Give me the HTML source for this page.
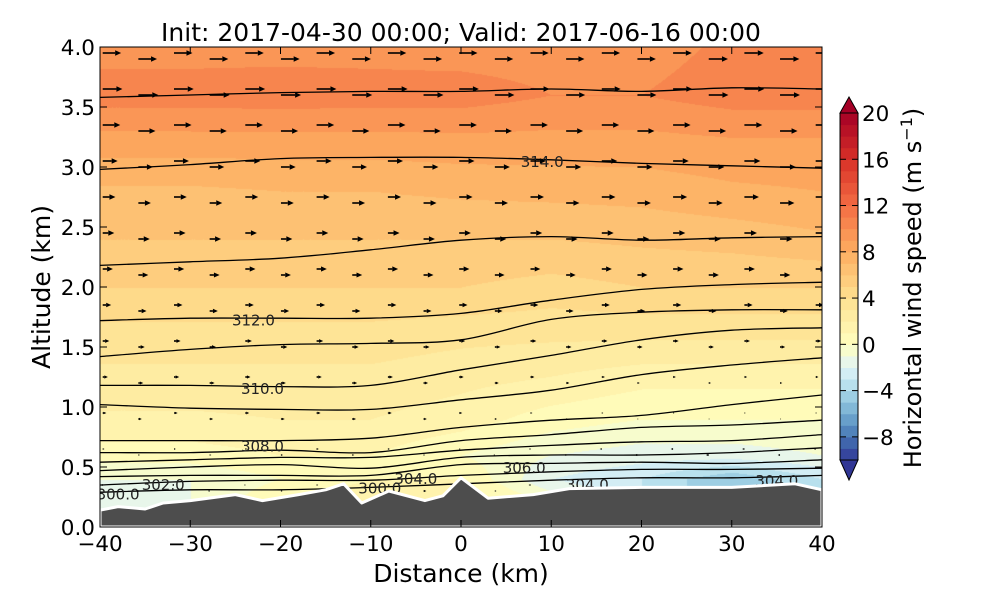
<!DOCTYPE html>
<html><head><meta charset="utf-8"><style>
html,body{margin:0;padding:0;background:#fff;}
#wrap{position:relative;width:1000px;height:600px;font-family:"DejaVu Sans","Liberation Sans",sans-serif;}
canvas{position:absolute;left:100px;top:47px;}
svg{position:absolute;left:0;top:0;}
</style></head><body>
<div id="wrap">
<canvas id="fill" width="722" height="480"></canvas>
<svg id="svg" width="1000" height="600"></svg>
</div>
<script>
// ---- data ----
const gridX = [-40,-30,-20,-10,0,10,20,30,40];
const gridZ = [0,0.2,0.4,0.6,0.9,1.2,1.6,2.0,2.4,2.8,3.2,3.6,4.0];
const speed00 = [-2,-1,1,2,2,0,-3,-5,-3];
const speed02 = [-2,-1,1,2,2,0,-3,-5,-3];
const speed04 = [-1,-1,0,1,1,-2,-3,-5,-3];
const speed06 = [0.5,0.5,1,1,0,-1,-1.5,-1.5,-1];
const speed09 = [1.8,1.8,2,2,1.5,0.5,0,0,0];
const speed12 = [2.6,2.6,2.6,2.6,2.2,1.8,1.2,1.2,1.2];
const speed16 = [3.6,3.6,3.6,3.6,3.3,3.2,3.2,3.2,3.2];
const speed20 = [5,5,5,5,5,4.6,5,5,5];
const speed24 = [6,6,6,6,6,6,6.2,6.4,6.8];
const speed28 = [6.8,6.8,7,7,7.2,7.3,7.4,7.8,8];
const speed32 = [8.5,8.5,8.5,8.5,8.6,8.6,8.6,8.8,8.8];
const speed36 = [10.5,10.5,10.6,10.5,10.5,10,10,10.5,10.5];
const speed40 = [9.6,9.6,9.6,9.6,9.5,9.5,9.6,10.2,10];
const speedRows = [speed00,speed02,speed04,speed06,speed09,speed12,speed16,speed20,speed24,speed28,speed32,speed36,speed40];
const terrainX = [-40,-38,-35,-33,-30,-25,-22,-18,-15,-13,-11,-8,-4,-2,0,3,8,12,20,30,37,40];
const terrainZ = [0.14,0.17,0.15,0.2,0.22,0.27,0.22,0.27,0.31,0.36,0.2,0.3,0.22,0.26,0.41,0.24,0.27,0.32,0.33,0.33,0.36,0.31];
const contourX = [-40,-30,-20,-10,0,10,20,30,40];
const theta1 = [3.58,3.6,3.62,3.63,3.63,3.65,3.63,3.66,3.65];
const theta2 = [2.98,3.02,3.07,3.08,3.08,3.06,3.03,3.01,2.99];
const theta3 = [2.18,2.21,2.24,2.31,2.39,2.42,2.39,2.41,2.42];
const theta4 = [1.72,1.74,1.74,1.74,1.78,1.89,1.98,2.02,2.04];
const theta5 = [1.42,1.48,1.52,1.53,1.56,1.73,1.79,1.81,1.81];
const theta6 = [1.18,1.18,1.17,1.18,1.31,1.43,1.56,1.64,1.66];
const theta7 = [1.02,0.99,0.98,0.98,1.06,1.14,1.27,1.35,1.41];
const theta8 = [0.72,0.72,0.72,0.74,0.83,0.89,0.93,1.02,1.1];
const theta9 = [0.62,0.62,0.64,0.62,0.72,0.77,0.83,0.85,0.89];
const theta10 = [0.54,0.56,0.58,0.58,0.64,0.68,0.71,0.72,0.77];
const theta11 = [0.47,0.5,0.52,0.49,0.58,0.6,0.6,0.62,0.66];
const theta12 = [0.42,0.43,0.43,0.43,0.52,0.53,0.54,0.53,0.56];
const theta13 = [0.35,0.38,0.39,0.39,0.43,0.46,0.48,0.48,0.49];
const theta14 = [0.29,0.31,0.31,0.33,0.36,0.39,0.41,0.41,0.43];
const contours = [theta1,theta2,theta3,theta4,theta5,theta6,theta7,theta8,theta9,theta10,theta11,theta12,theta13,theta14];
const labelText = ["314.0","312.0","310.0","308.0","306.0","304.0","304.0","302.0","300.0","304.0","300.0"];
const labelX = [9,-23,-22,-22,7,14,35,-33,-38,-5,-9];
const labelZ = [3.05,1.73,1.16,0.68,0.5,0.36,0.39,0.36,0.28,0.41,0.33];
const xTicks = [-40,-30,-20,-10,0,10,20,30,40];
const yTicks = [0,0.5,1,1.5,2,2.5,3,3.5,4];
const cbTicks = [-8,-4,0,4,8,12,16,20];

// ---- scales ----
const X0=100,X1=822,Y0=527,Y1=47;
const sx = x => X0+(x+40)/80*(X1-X0);
const sy = z => Y0-z/4*(Y0-Y1);
const cbTop=113,cbBot=460;
const cy = v => cbBot-(v+10)/30*(cbBot-cbTop);

const stops=[[-10,[49,54,149]],[-8,[69,117,180]],[-6,[116,173,209]],[-4,[171,217,233]],[-2,[224,243,248]],[0,[255,255,191]],[4,[254,224,144]],[8,[253,174,97]],[12,[244,109,67]],[16,[215,48,39]],[20,[165,0,38]]];
function cmap(v){
  if(v<=stops[0][0])return stops[0][1];
  for(let i=1;i<stops.length;i++){if(v<=stops[i][0]){const a=stops[i-1],b=stops[i];const t=(v-a[0])/(b[0]-a[0]);return a[1].map((c,k)=>Math.round(c+(b[1][k]-c)*t));}}
  return stops[stops.length-1][1];
}
const bandColor = v => { const f=Math.floor(v); return cmap(Math.max(-10,Math.min(19,f))+0.5); };
function speedAt(x,z){
  let i=Math.min(gridX.length-2,Math.max(0,Math.floor((x-gridX[0])/10)));
  let tx=(x-gridX[i])/(gridX[i+1]-gridX[i]);
  let j=0;while(j<gridZ.length-2&&z>gridZ[j+1])j++;
  let tz=Math.max(0,Math.min(1,(z-gridZ[j])/(gridZ[j+1]-gridZ[j])));
  const a=speedRows[j][i]*(1-tx)+speedRows[j][i+1]*tx;
  const b=speedRows[j+1][i]*(1-tx)+speedRows[j+1][i+1]*tx;
  return a*(1-tz)+b*tz;
}
// fill
const cv=document.getElementById('fill'),ctx=cv.getContext('2d');
const img=ctx.createImageData(722,480);
for(let py=0;py<480;py++){const z=(480-py)/120;for(let px=0;px<722;px++){const x=px/722*80-40;const c=bandColor(speedAt(x,z));const o=(py*722+px)*4;img.data[o]=c[0];img.data[o+1]=c[1];img.data[o+2]=c[2];img.data[o+3]=255;}}
ctx.putImageData(img,0,0);

const NS='http://www.w3.org/2000/svg';
const svg=document.getElementById('svg');
function mk(tag,attrs,parent){const e=document.createElementNS(NS,tag);for(const k in attrs)e.setAttribute(k,attrs[k]);(parent||svg).appendChild(e);return e;}
const clip=mk('clipPath',{id:'pc'});mk('rect',{x:X0,y:Y1,width:X1-X0,height:Y0-Y1},clip);
const plot=mk('g',{'clip-path':'url(#pc)'});



// contours
function smoothPath(pts){let d='M'+pts[0][0]+','+pts[0][1];for(let i=1;i<pts.length;i++){const p0=pts[Math.max(0,i-2)],p1=pts[i-1],p2=pts[i],p3=pts[Math.min(pts.length-1,i+1)];const c1=[p1[0]+(p2[0]-p0[0])/6,p1[1]+(p2[1]-p0[1])/6],c2=[p2[0]-(p3[0]-p1[0])/6,p2[1]-(p3[1]-p1[1])/6];d+=`C${c1[0]},${c1[1]} ${c2[0]},${c2[1]} ${p2[0]},${p2[1]}`;}return d;}
contours.forEach((c,k)=>{
  const p=mk('path',{d:smoothPath(contourX.map((x,i)=>[sx(x),sy(c[i])])),fill:'none',stroke:'#000','stroke-width':1.3},plot);
  
  
});
labelText.forEach((t,i)=>{
  const e=mk('text',{x:sx(labelX[i]),y:sy(labelZ[i])+6,'font-size':15,'text-anchor':'middle',fill:'#222'},plot);
  e.textContent=t;
  
  
});
// arrows
const tZ=x=>{for(let i=1;i<terrainX.length;i++)if(x<=terrainX[i]){const t=(x-terrainX[i-1])/(terrainX[i]-terrainX[i-1]);return terrainZ[i-1]+(terrainZ[i]-terrainZ[i-1])*t;}return terrainZ[terrainZ.length-1];};
for(let c=0;c<21;c++){const x=-39.7+c*3.95;for(let r=0;r<14;r++){const z=3.95-r*0.3-(c%2)*0.05;if(z<tZ(x)+0.05)continue;
  const u=speedAt(x,z);const L=u*1.9;const x0=sx(x),y0=sy(z);
  const g=mk('g',{},plot);
  
  
  const s=Math.sign(u)||1;const hl=Math.min(6,Math.abs(L)*0.45+1.2);
  if(Math.abs(L)>hl)mk('line',{x1:x0,y1:y0,x2:x0+L-s*hl,y2:y0,stroke:'#000','stroke-width':1.6},g);
  const tip=x0+(Math.abs(L)>hl?L:s*hl);
  mk('polygon',{points:`${tip},${y0} ${tip-s*hl},${y0-hl*0.45} ${tip-s*hl},${y0+hl*0.45}`,fill:'#000'},g);
}}
// terrain
let tp=terrainX.map((x,i)=>sx(x)+','+sy(terrainZ[i])).join(' ');
const terr=mk('polygon',{points:tp+` ${X1},${Y0} ${X0},${Y0}`,fill:'#4d4d4d',stroke:'#fff','stroke-width':3,'stroke-linejoin':'round'},plot);



// axes frame
const fr=mk('rect',{x:X0,y:Y1,width:X1-X0,height:Y0-Y1,fill:'none',stroke:'#000','stroke-width':1});


xTicks.forEach(t=>{const x=sx(t);mk('line',{x1:x,y1:Y0,x2:x,y2:Y0-7,stroke:'#000'});mk('line',{x1:x,y1:Y1,x2:x,y2:Y1+7,stroke:'#000'});
  const e=mk('text',{x:x,y:Y0+24,'font-size':21.5,'text-anchor':'middle'});e.textContent=(t<0?'\u2212'+(-t):t);
  
  });
yTicks.forEach(t=>{const y=sy(t);mk('line',{x1:X0,y1:y,x2:X0+7,y2:y,stroke:'#000'});mk('line',{x1:X1,y1:y,x2:X1-7,y2:y,stroke:'#000'});
  const e=mk('text',{x:X0-5,y:y+8,'font-size':21.5,'text-anchor':'end'});e.textContent=t.toFixed(1);
  
  });
let e=mk('text',{x:461,y:41,'font-size':25,'text-anchor':'middle'});e.textContent='Init: 2017-04-30 00:00; Valid: 2017-06-16 00:00';


e=mk('text',{x:461,y:582,'font-size':25,'text-anchor':'middle'});e.textContent='Distance (km)';


e=mk('text',{x:0,y:0,'font-size':25,'text-anchor':'middle',transform:'translate(50,287) rotate(-90)'});e.textContent='Altitude (km)';



// colorbar
const cb=mk('g',{});


for(let v=-10;v<20;v++){const c=cmap(v+0.5);mk('rect',{x:840,y:cy(v+1),width:18,height:cy(v)-cy(v+1)+0.5,fill:`rgb(${c})`},cb);}
let c1=cmap(20);mk('polygon',{points:`840,${cbTop} 858,${cbTop} 849,97`,fill:`rgb(${c1})`,stroke:'#000'},cb);
c1=cmap(-10);mk('polygon',{points:`840,${cbBot} 858,${cbBot} 849,480`,fill:`rgb(${c1})`,stroke:'#000'},cb);
mk('line',{x1:840,y1:cbTop,x2:840,y2:cbBot,stroke:'#000'},cb);mk('line',{x1:858,y1:cbTop,x2:858,y2:cbBot,stroke:'#000'},cb);
cbTicks.forEach(t=>{const y=cy(t);mk('line',{x1:852,y1:y,x2:858,y2:y,stroke:'#000'},cb);mk('line',{x1:840,y1:y,x2:846,y2:y,stroke:'#000'},cb);
  const e=mk('text',{x:862,y:y+8,'font-size':21.5},cb);e.textContent=(t<0?'\u2212'+(-t):t);
  
  });
e=mk('text',{x:0,y:0,'font-size':24,'text-anchor':'middle',transform:'translate(921,288) rotate(-90)'});
e.innerHTML='Horizontal wind speed (m s<tspan dy="-9" font-size="16">\u22121</tspan><tspan dy="9">)</tspan>';


</script>
</body></html>
